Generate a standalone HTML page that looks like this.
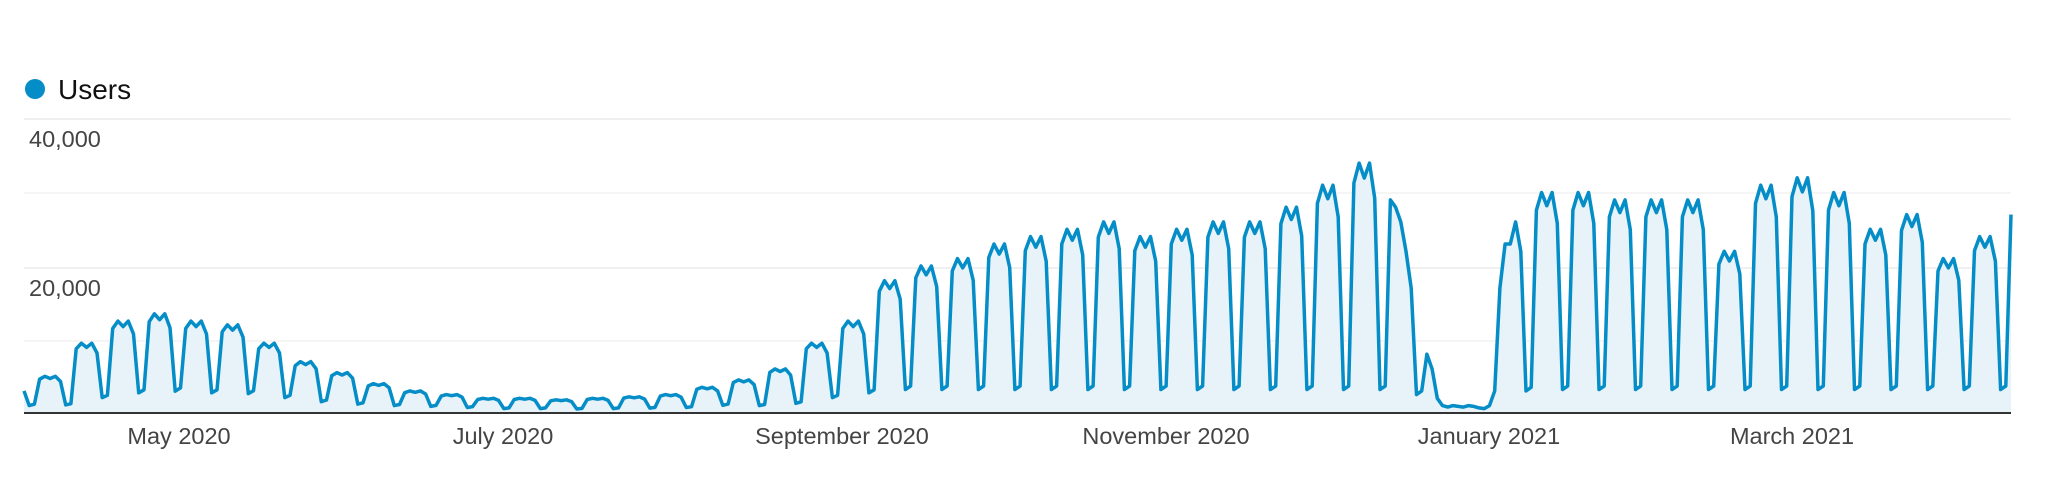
<!DOCTYPE html>
<html><head><meta charset="utf-8"><style>
html,body{margin:0;padding:0;background:#fff;width:2048px;height:482px;overflow:hidden;font-family:"Liberation Sans",Arial,sans-serif}
</style></head><body>
<svg id="s" width="2048" height="482" xmlns="http://www.w3.org/2000/svg" style="position:absolute;left:0;top:0">
<circle cx="35" cy="89" r="10" fill="#058dc7"/>
<text x="58" y="99" font-size="28" fill="#111">Users</text>
<line x1="24" y1="119" x2="2011" y2="119" stroke="#ececec" stroke-width="1.5"/>
<line x1="24" y1="193" x2="2011" y2="193" stroke="#f2f2f2" stroke-width="1.5"/>
<line x1="24" y1="268" x2="2011" y2="268" stroke="#ececec" stroke-width="1.5"/>
<line x1="24" y1="341" x2="2011" y2="341" stroke="#f2f2f2" stroke-width="1.5"/>
<text x="29" y="147" font-size="23.5" fill="#444">40,000</text>
<text x="29" y="296" font-size="23.5" fill="#444">20,000</text>
<path id="area" fill="#e8f3f9" stroke="none"/>
<path id="ln" fill="none" stroke="#058dc7" stroke-width="3.5" stroke-linejoin="round"/>
<line x1="24" y1="413" x2="2011" y2="413" stroke="#333" stroke-width="2"/>
<g font-size="23.5" fill="#444" text-anchor="middle">
<text x="179" y="444">May 2020</text>
<text x="503" y="444">July 2020</text>
<text x="842" y="444">September 2020</text>
<text x="1166" y="444">November 2020</text>
<text x="1489" y="444">January 2021</text>
<text x="1792" y="444">March 2021</text>
</g>
</svg>
<script>
var peaks=[5,9.5,12.5,13.5,12.5,12,9.5,7,5.5,4,3,
2.5,2,2,1.8,2,2.2,2.5,
3.5,4.5,6,9.5,12.5,18,20,21,23,24,25,26,24,25,26,26,28,31,34,
-1,-2,-3,-4,
30,30,29,29,29,22,31,32,30,25,27,21,24];
var shape=[.92,1,.94,1,.86];
var vals=[3,1,1.2];
for(var k=0;k<peaks.length;k++){
 var p=peaks[k],low;
 if(p==-1){vals.push(29,28,26,22,17,2.5,3);continue;}
 if(p==-2){vals.push(8,6,2,1,.8,1,.9);continue;}
 if(p==-3){vals.push(.8,1,.9,.7,.6,1,3);continue;}
 if(p==-4){vals.push(17,23,23,26,22,3,3.5);continue;}
 if(p<4)low=p*0.3;else if(p<15)low=Math.max(1,p*0.22);else low=3.2;
 for(var i=0;i<5;i++)vals.push(p*shape[i]);
 vals.push(low,low*1.15);
}
vals.push(27);
var n=vals.length;
var x0=24, dx=(2011-24)/(n-1);
var pts=vals.map(function(v,i){return [x0+i*dx,413-v*7.35];});
var dd="M"+pts.map(function(p){return p[0].toFixed(1)+","+p[1].toFixed(1)}).join(" L");
document.getElementById("ln").setAttribute("d",dd);
document.getElementById("area").setAttribute("d",dd+" L2011,413 L24,413 Z");
</script>
</body></html>
